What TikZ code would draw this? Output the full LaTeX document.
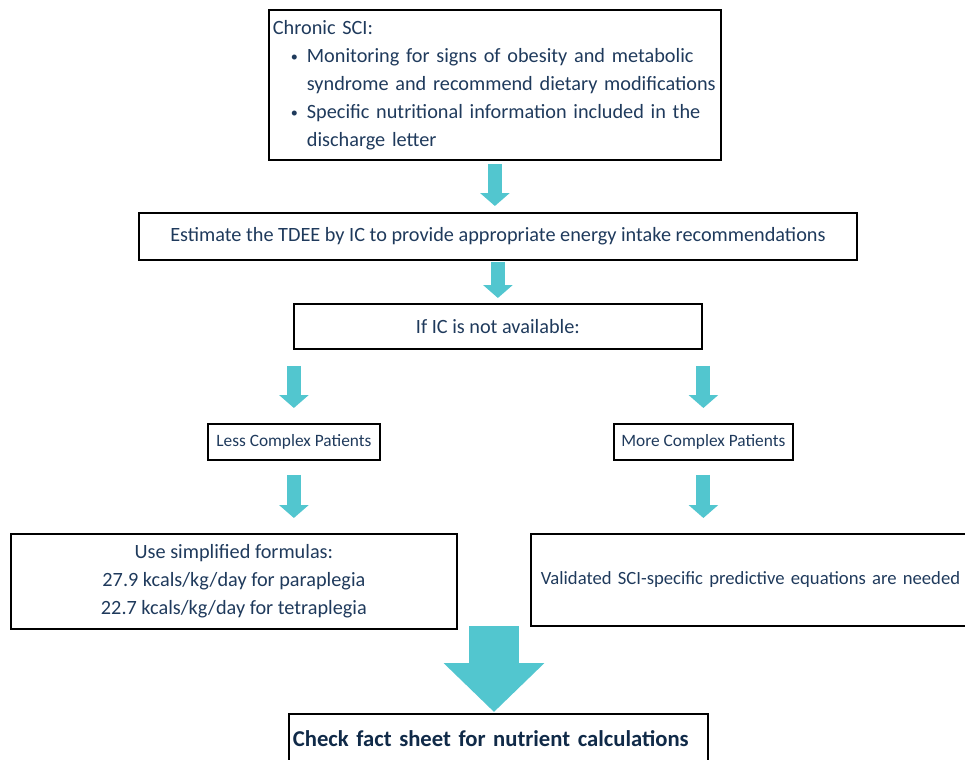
\documentclass[tikz,border=0pt]{standalone}
\usepackage{fontspec}
\setmainfont{Carlito}
\usetikzlibrary{arrows.meta}
\definecolor{tealarrow}{RGB}{82,198,207}
\definecolor{navytext}{RGB}{31,58,92}
\definecolor{navydark}{RGB}{16,42,72}
\newlength\px
\setlength\px{0.75pt}
\newcommand\dotmark{\makebox[16\px][l]{\raisebox{1\px}{\scalebox{0.7}{\textbullet}}}}
\tikzset{
  stepbox/.style={draw=black, line width=1.8\px, text=navytext, inner sep=0pt,
    font=\fontsize{15.2pt}{21pt}\selectfont},
  smallbox/.style={stepbox, font=\fontsize{13pt}{15pt}\selectfont},
  flowarrow/.style={draw=tealarrow, line width=10.5pt, -{Triangle[length=9.75pt,width=21.75pt]}},
  bigarrow/.style={draw=tealarrow, line width=37.5pt, -{Triangle[length=36.75pt,width=73.5pt]}}
}
\begin{document}
\begin{tikzpicture}[x=0.75pt, y=-0.75pt]
\useasboundingbox (0,0) rectangle (965,760);
\clip (0,0) rectangle (965,760);

% boxes
\node[stepbox, anchor=north west, minimum width=452\px, minimum height=150\px,
  text width=444\px, inner xsep=4\px, align=left] (chronic) at (268,9)
  {Chronic SCI:\\
   \hspace*{18\px}\dotmark Monitoring for signs of obesity and metabolic\\
   \hspace*{34\px}syndrome and recommend dietary modifications\\
   \hspace*{18\px}\dotmark Specific nutritional information included in the\\
   \hspace*{34\px}discharge letter};
\node[stepbox, anchor=north west, minimum width=718\px, minimum height=47\px] (tdee) at (138,212)
  {Estimate the TDEE by IC to provide appropriate energy intake recommendations};
\node[stepbox, anchor=north west, minimum width=408\px, minimum height=45\px] (ic) at (293,303)
  {If IC is not available:};
\node[smallbox, anchor=north west, minimum width=172\px, minimum height=36\px] (less) at (207,423)
  {Less Complex Patients};
\node[smallbox, anchor=north west, minimum width=179\px, minimum height=36\px] (more) at (613,423)
  {More Complex Patients};
\node[stepbox, anchor=north west, minimum width=446\px, minimum height=95\px, align=center] (simple) at (10,533)
  {Use simplified formulas:\\27.9 kcals/kg/day for paraplegia\\22.7 kcals/kg/day for tetraplegia};
\node[stepbox, anchor=north west, minimum height=92\px, text width=500\px, inner xsep=10\px,
  align=left, font=\fontsize{14pt}{21pt}\selectfont] (complex) at (530,533)
  {Validated SCI-specific predictive equations are needed};
\node[stepbox, anchor=north west, minimum height=50\px, text width=411\px, inner xsep=4\px,
  align=left, text=navydark, font=\bfseries\fontsize{17pt}{20pt}\selectfont] (fact) at (288,713)
  {Check fact sheet for nutrient calculations};

% arrows
\draw[flowarrow, shorten <=3\px, shorten >=6\px] (chronic.south) -- (chronic.south |- tdee.north);
\draw[flowarrow, shorten <=1\px, shorten >=5\px] (tdee.south) -- (ic.north);
\draw[flowarrow, shorten <=16\px, shorten >=15\px] (less.north |- ic.south) -- (less.north);
\draw[flowarrow, shorten <=16\px, shorten >=15\px] (more.north |- ic.south) -- (more.north);
\draw[flowarrow, shorten <=14\px, shorten >=15\px] (less.south) -- (less.south |- simple.north);
\draw[flowarrow, shorten <=14\px, shorten >=15\px] (more.south) -- (more.south |- complex.north);
\coordinate (merge) at (494,626);
\draw[bigarrow, shorten >=1\px] (merge) -- (merge |- fact.north);
\end{tikzpicture}
\end{document}
